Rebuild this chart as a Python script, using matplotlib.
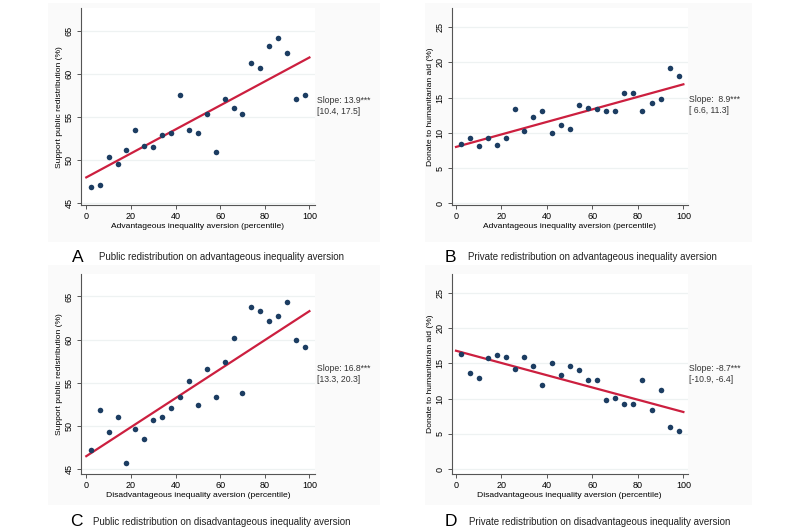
import matplotlib.pyplot as plt
from matplotlib.patches import Rectangle
import numpy as np

plt.rcParams['font.family'] = ['Liberation Sans', 'DejaVu Sans']

# percentile bins (x) shared by all four panels
percentile = [2, 6, 10, 14, 18, 22, 26, 30, 34, 38, 42, 46, 50,
              54, 58, 62, 66, 70, 74, 78, 82, 86, 90, 94, 98]

public_adv = [46.9, 47.1, 50.4, 49.6, 51.2, 53.5, 51.6, 51.5, 52.9, 53.2, 57.6, 53.5, 53.2,
              55.4, 51.0, 57.1, 56.0, 55.4, 61.3, 60.7, 63.2, 64.1, 62.4, 57.1, 57.5]
private_adv = [8.4, 9.2, 8.1, 9.2, 8.3, 9.2, 13.4, 10.3, 12.3, 13.1, 10.0, 11.1, 10.6,
               13.9, 13.6, 13.4, 13.1, 13.1, 15.6, 15.6, 13.1, 14.2, 14.8, 19.2, 18.1]
public_dis = [47.2, 51.8, 49.3, 51.0, 45.7, 49.6, 48.5, 50.7, 51.0, 52.1, 53.3, 55.2, 52.4,
              56.6, 53.3, 57.4, 60.2, 53.8, 63.8, 63.3, 62.1, 62.7, 64.4, 59.9, 59.1]
private_dis = [16.3, 13.7, 12.9, 15.7, 16.2, 15.9, 14.2, 15.9, 14.6, 12.0, 15.1, 13.4, 14.6,
               14.0, 12.6, 12.6, 9.8, 10.1, 9.2, 9.2, 12.6, 8.4, 11.2, 5.9, 5.4]

# fitted lines: intercept at percentile 0, slope per 100 percentiles
intercepts = [48.0, 8.0, 46.5, 16.8]
slopes = [13.9, 8.9, 16.8, -8.7]
slope_text = ["Slope: 13.9***\n[10.4, 17.5]", "Slope:  8.9***\n[ 6.6, 11.3]",
              "Slope: 16.8***\n[13.3, 20.3]", "Slope: -8.7***\n[-10.9, -6.4]"]

letters = ["A", "B", "C", "D"]
captions = ["Public redistribution on advantageous inequality aversion",
            "Private redistribution on advantageous inequality aversion",
            "Public redistribution on disadvantageous inequality aversion",
            "Private redistribution on disadvantageous inequality aversion"]
xlabels = ["Advantageous inequality aversion (percentile)"] * 2 + \
          ["Disadvantageous inequality aversion (percentile)"] * 2
ylabels = ["Support public redistribution (%)", "Donate to humanitarian aid (%)"] * 2

W, H = 800, 530
fig = plt.figure(figsize=(8, 5.3), dpi=100)
fig.patch.set_facecolor("white")

# faint graph-region boxes (pixels: left, top, right, bottom)
for l, t, r, b in [(48, 3, 380, 242), (425, 3, 752, 242),
                   (48, 265, 380, 505), (425, 265, 752, 505)]:
    fig.patches.append(Rectangle((l / W, 1 - b / H), (r - l) / W, (b - t) / H,
                                 transform=fig.transFigure, facecolor="#fafafa",
                                 edgecolor="none", zorder=-5))

# axes positions in pixels: left, top, right, bottom
boxes = [(80.7, 8.3, 315, 205), (451.7, 8.3, 687.7, 205),
         (80.7, 274, 315, 474.3), (451.7, 274, 687.7, 474.3)]
ylims = [(44.8, 67.6), (-0.25, 27.7), (44.4, 67.6), (-0.75, 27.7)]
yticks = [[45, 50, 55, 60, 65], [0, 5, 10, 15, 20, 25]] * 2
series = [public_adv, private_adv, public_dis, private_dis]
text_pos = [(317, 106), (689, 105), (317, 374), (689, 374)]
letter_pos = [(72, 257), (445, 257), (70, 522), (445, 522)]
caption_pos = [(99, 257), (468, 257), (93, 522), (469, 522)]

for i in range(4):
    l, t, r, b = boxes[i]
    ax = fig.add_axes([l / W, 1 - b / H, (r - l) / W, (b - t) / H])
    ax.set_facecolor("white")
    ax.set_xlim(-2.5 if i % 2 == 0 else -1.9, 102.5 if i % 2 == 0 else 101.9)
    ax.set_ylim(*ylims[i])
    ax.set_yticks(yticks[i])
    ax.set_xticks([0, 20, 40, 60, 80, 100])
    ax.grid(axis="y", color="#eef2f2", linewidth=0.9)
    ax.set_axisbelow(True)
    for s in ["top", "right"]:
        ax.spines[s].set_visible(False)
    for s in ["left", "bottom"]:
        ax.spines[s].set_color("#555555")
        ax.spines[s].set_linewidth(0.8)
    ax.tick_params(direction="out", length=3, width=0.7, color="#555555",
                   labelsize=6.5, pad=2)
    for lab in ax.get_yticklabels():
        lab.set_rotation(90)
        lab.set_va("center")

    ax.scatter(percentile, series[i], s=16, color="#1c3d62", zorder=3, linewidths=0)
    xs = np.array([0, 100])
    ax.plot(xs, intercepts[i] + slopes[i] * xs / 100, color="#cc1f3f", linewidth=1.6, zorder=2)

    ax.set_xlabel(xlabels[i], fontsize=6.1, labelpad=1.5)
    ax.set_ylabel(ylabels[i], fontsize=6.1, labelpad=1.5)

    tx, ty = text_pos[i]
    fig.text(tx / W, 1 - ty / H, slope_text[i], fontsize=6.2, color="#333333",
             ha="left", va="center", linespacing=1.15)
    lx, ly = letter_pos[i]
    fig.text(lx / W, 1 - ly / H, letters[i], fontsize=12.5, ha="left", va="center")
    cx, cy = caption_pos[i]
    fig.text(cx / W, 1 - cy / H, captions[i], fontsize=7, ha="left", va="center",
             color="#222222")

fig.savefig("out.png", dpi=100)
